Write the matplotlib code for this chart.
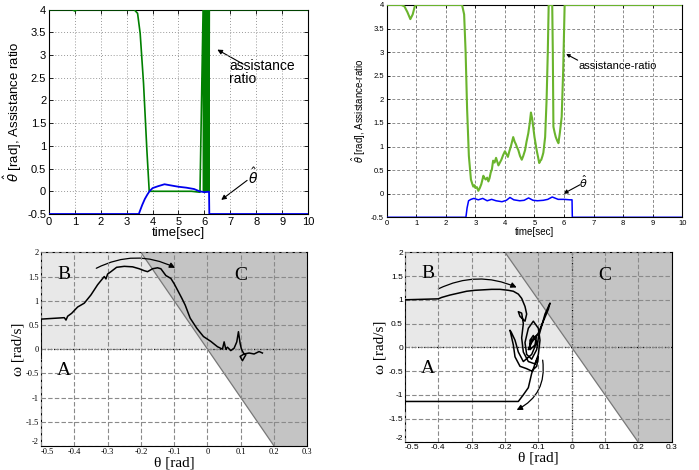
import numpy as np
import matplotlib
matplotlib.use("Agg")
import matplotlib.pyplot as plt
from matplotlib.patches import FancyArrowPatch

# ---------------- data ----------------
# top-left: assistance ratio and theta-hat vs time
tl_green_t = [0, 0.9, 1.0, 1.1, 2.0, 3.0, 3.29, 3.42, 3.52, 3.65, 3.78, 3.87, 4.5, 5.5, 5.83,
              5.95, 5.97, 5.99, 6.01, 6.03, 6.05, 6.07, 6.09, 6.11, 6.13, 6.15, 6.17, 6.19, 10]
tl_green_v = [4, 4, 3.97, 4, 4, 4, 4, 3.92, 3.48, 2.38, 0.9, 0.0, 0.0, 0.0, -0.02,
              4.0, 0.0, 4.0, 0.0, 4.0, 0.0, 4.0, 0.0, 4.0, 0.0, 4.0, 0.0, 4.0, 4.0]
tl_blue_t = [0, 3.47, 3.5, 3.6, 3.7, 3.8, 3.88, 4.0, 4.2, 4.46, 4.7, 5.0, 5.3, 5.6, 5.81, 6.0, 6.18, 6.19, 10]
tl_blue_v = [-0.5, -0.5, -0.45, -0.3, -0.17, -0.07, 0.0, 0.07, 0.11, 0.155, 0.13, 0.1, 0.08, 0.05, 0.0, -0.02, -0.01, -0.5, -0.5]

# top-right
tr_green_t = [0, 0.5, 0.6, 0.7, 0.8, 0.88, 0.95, 1.0, 2.55, 2.62, 2.67, 2.72, 2.78, 2.85, 2.9, 2.93,
              2.97, 3.0, 3.05, 3.1, 3.15, 3.2, 3.24, 3.27, 3.31, 3.35, 3.4, 3.44, 3.48, 3.52, 3.56,
              3.6, 3.65, 3.7, 3.74, 3.78, 3.83, 3.88, 3.94, 4.0, 4.05, 4.1, 4.15, 4.2, 4.24, 4.28,
              4.33, 4.37, 4.41, 4.45, 4.51, 4.57, 4.62, 4.68, 4.73, 4.79, 4.84, 4.88, 4.92, 4.95,
              5.0, 5.04, 5.08, 5.12, 5.16, 5.2, 5.23, 5.27, 5.3, 5.36, 5.41, 5.45, 5.48, 5.6, 5.62,
              5.64, 5.68, 5.72, 5.77, 5.81, 5.86, 5.92, 5.97, 6.02, 10]
tr_green_v = [4, 4, 3.97, 3.85, 3.70, 3.8, 3.97, 4, 4, 3.8, 3.0, 1.8, 0.8, 0.3, 0.2, 0.15,
              0.18, 0.12, 0.14, 0.06, 0.12, 0.2, 0.3, 0.38, 0.33, 0.3, 0.34, 0.26, 0.33, 0.45, 0.52,
              0.7, 0.66, 0.76, 0.68, 0.6, 0.66, 0.72, 0.82, 0.9, 0.84, 0.78, 0.9, 1.0, 1.1, 1.2,
              1.1, 1.05, 0.98, 0.93, 0.8, 0.72, 0.8, 0.92, 1.1, 1.28, 1.5, 1.72, 1.6, 1.45,
              1.2, 1.05, 0.9, 0.78, 0.65, 0.7, 0.72, 0.8, 0.87, 1.2, 2.0, 3.0, 4.0, 4.0, 3.0,
              1.42, 1.3, 1.2, 1.12, 1.07, 1.3, 1.63, 2.6, 4.0, 4.0]
tr_blue_t = [0, 2.68, 2.72, 2.77, 2.85, 2.95, 3.1, 3.25, 3.4, 3.55, 3.7, 3.9, 4.05, 4.17, 4.3, 4.5,
             4.65, 4.8, 4.95, 5.1, 5.3, 5.45, 5.6, 5.8, 6.0, 6.2, 6.27, 6.28, 10]
tr_blue_v = [-0.5, -0.5, -0.3, -0.15, -0.12, -0.1, -0.13, -0.1, -0.15, -0.12, -0.15, -0.17, -0.14, -0.08,
             -0.13, -0.15, -0.14, -0.09, -0.14, -0.15, -0.14, -0.12, -0.07, -0.12, -0.12, -0.13, -0.13, -0.5, -0.5]

# bottom-left phase trajectory
bl_theta = [-0.5, -0.5, -0.5, -0.43, -0.425, -0.42, -0.408, -0.39, -0.37, -0.35, -0.33, -0.31, -0.305,
            -0.30, -0.29, -0.273, -0.25, -0.225, -0.205, -0.19, -0.18, -0.165, -0.15, -0.14, -0.125,
            -0.11, -0.1, -0.09, -0.077, -0.067, -0.052, -0.032, -0.012, 0.01, 0.03, 0.045, 0.05,
            0.055, 0.06, 0.07, 0.08, 0.088, 0.093, 0.098, 0.102, 0.108, 0.115, 0.105, 0.098, 0.11,
            0.125, 0.14, 0.155, 0.165]
bl_omega = [-0.19, 0.43, 0.62, 0.65, 0.6, 0.68, 0.74, 0.87, 0.95, 1.12, 1.33, 1.5, 1.45,
            1.55, 1.6, 1.69, 1.71, 1.70, 1.66, 1.62, 1.60, 1.66, 1.68, 1.66, 1.52,
            1.46, 1.35, 1.22, 1.05, 0.91, 0.64, 0.43, 0.26, 0.16, 0.05, 0.0, 0.15,
            0.0, 0.04, -0.03, 0.02, 0.15, 0.36, 0.12, 0.0, -0.08, -0.12, -0.24, -0.15, -0.1,
            -0.08, -0.1, -0.05, -0.08]

# bottom-right phase trajectory
br_theta = [-0.5, -0.5, -0.4, -0.39, -0.365, -0.34, -0.315, -0.29, -0.265, -0.24,
            -0.215, -0.19, -0.175, -0.16, -0.15, -0.14, -0.135, -0.14, -0.155, -0.16,
            -0.15, -0.145, -0.15, -0.145, -0.13, -0.11, -0.1, -0.095, -0.1, -0.115,
            -0.13, -0.14, -0.135, -0.12, -0.105, -0.1, -0.09, -0.08, -0.065, -0.07,
            -0.085, -0.1, -0.12, -0.13, -0.12, -0.105, -0.11, -0.125, -0.125, -0.115,
            -0.105, -0.12, -0.145, -0.16, -0.17, -0.18, -0.185, -0.175, -0.17, -0.155,
            -0.135, -0.12, -0.105, -0.1, -0.11, -0.12, -0.125, -0.13, -0.145, -0.16, -0.5]
br_omega = [-1.35, 1.0, 1.02, 1.05, 1.10, 1.14, 1.18, 1.20, 1.21, 1.22,
            1.22, 1.20, 1.18, 1.12, 1.03, 0.86, 0.7, 0.55, 0.65, 0.75,
            0.72, 0.5, 0.2, -0.1, -0.3, -0.35, -0.15, 0.15, 0.4, 0.55,
            0.4, 0.1, -0.15, -0.25, -0.05, 0.2, 0.45, 0.7, 0.93, 0.8,
            0.55, 0.3, 0.1, -0.05, 0.15, 0.25, 0.05, -0.05, 0.15, 0.25,
            0.1, -0.15, -0.3, -0.1, 0.15, 0.3, 0.36, 0.05, -0.2, -0.4,
            -0.45, -0.5, -0.4, -0.2, -0.35, -0.55, -0.7, -0.85, -1.0, -1.14, -1.14]

time_ticks = list(range(0, 11))
ratio_ticks = [-0.5, 0, 0.5, 1, 1.5, 2, 2.5, 3, 3.5, 4]
ratio_labels = ["-0.5", "0", "0.5", "1", "1.5", "2", "2.5", "3", "3.5", "4"]
theta_ticks = [-0.5, -0.4, -0.3, -0.2, -0.1, 0, 0.1, 0.2, 0.3]
theta_labels = ["-0.5", "-0.4", "-0.3", "-0.2", "-0.1", "0", "0.1", "0.2", "0.3"]
omega_ticks = [-2, -1.5, -1, -0.5, 0, 0.5, 1, 1.5, 2]
omega_labels = ["-2", "-1.5", "-1", "-0.5", "0", "0.5", "1", "1.5", "2"]
switch_slope = -10.0   # boundary omega = slope * theta

SANS = "Liberation Sans"
SERIF = "Liberation Serif"

fig = plt.figure(figsize=(6.99, 4.70), dpi=100)
fig.patch.set_facecolor("white")

def arrow(ax, start, end, rad=0.0, lw=0.8, ms=8):
    p = FancyArrowPatch(start, end, connectionstyle=f"arc3,rad={rad}",
                        arrowstyle="-|>", mutation_scale=ms, lw=lw, color="black",
                        shrinkA=0, shrinkB=0)
    ax.add_patch(p)

# ---------------- top-left ----------------
ax1 = fig.add_axes([0.0701, 0.5447, 0.3705, 0.4347])
ax1.plot(tl_green_t, tl_green_v, color="#008000", lw=1.2, zorder=3)
ax1.plot(tl_blue_t, tl_blue_v, color="#0000ee", lw=1.3, zorder=3)
ax1.set_xlim(0, 10); ax1.set_ylim(-0.5, 4)
ax1.set_xticks(time_ticks); ax1.set_yticks(ratio_ticks)
ax1.set_xticklabels([str(t) for t in time_ticks], fontsize=8, family=SANS)
ax1.set_yticklabels(ratio_labels, fontsize=8, family=SANS)
ax1.tick_params(direction="in", length=3, width=0.6, top=True, right=True, pad=2)
ax1.grid(True, linestyle=(0, (1, 2)), color="#999999", lw=0.7)
ax1.set_xlabel("time[sec]", fontsize=9.5, family=SANS, labelpad=0)
ax1.set_ylabel(r"$\hat{\theta}$ [rad], Assistance ratio", fontsize=9.5, family=SANS, labelpad=2)
ax1.text(6.95, 2.62, "assistance\nratio", fontsize=10, family=SANS, va="center", linespacing=0.9)
arrow(ax1, (7.5, 2.8), (6.5, 3.12), ms=7)
ax1.text(7.9, 0.32, r"$\hat{\theta}$", fontsize=10, ha="center", va="center")
arrow(ax1, (7.65, 0.24), (6.65, -0.19), ms=7)
for s in ax1.spines.values():
    s.set_linewidth(0.8)

# ---------------- top-right ----------------
ax2 = fig.add_axes([0.5532, 0.5377, 0.4229, 0.4517])
ax2.plot(tr_green_t, tr_green_v, color="#6ab42d", lw=1.5, zorder=3)
ax2.plot(tr_blue_t, tr_blue_v, color="#0000ff", lw=1.1, zorder=3)
ax2.set_xlim(0, 10); ax2.set_ylim(-0.5, 4)
ax2.set_xticks(time_ticks); ax2.set_yticks(ratio_ticks)
ax2.set_xticklabels([str(t) for t in time_ticks], fontsize=5.5, family=SANS)
ax2.set_yticklabels(ratio_labels, fontsize=5.5, family=SANS)
ax2.tick_params(direction="in", length=2, width=0.6, top=True, right=True, pad=2)
ax2.grid(True, linestyle=(0, (3, 2)), color="#8c8c8c", lw=0.7)
ax2.set_xlabel("time[sec]", fontsize=7, family=SANS, labelpad=0)
ax2.set_ylabel(r"$\hat{\theta}$ [rad], Assistance-ratio", fontsize=7, family=SANS, labelpad=2)
ax2.text(6.48, 2.71, "assistance-ratio", fontsize=8, family=SANS, va="center")
arrow(ax2, (6.46, 2.83), (6.07, 2.96), ms=5)
ax2.text(6.65, 0.26, r"$\hat{\theta}$", fontsize=8, ha="center", va="center")
arrow(ax2, (6.54, 0.19), (5.98, 0.0), ms=6)
for s in ax2.spines.values():
    s.set_linewidth(0.8)

# ---------------- bottom phase planes ----------------
def phase_axes(rect, theta, omega, tick_family, tick_size, arrows, black_vertical):
    ax = fig.add_axes(rect)
    xmin, xmax = theta_ticks[0], theta_ticks[-1]
    ymin, ymax = omega_ticks[0], omega_ticks[-1]
    xs = np.linspace(xmin, xmax, 400)
    bound = switch_slope * xs
    # region C (right of switching line)
    ax.fill_between(xs, np.clip(bound, ymin, ymax), ymax, color="#c4c4c4", lw=0, zorder=0)
    # region B (omega > 0, left of line)
    ax.fill_between(xs, 0, np.clip(bound, 0, ymax), color="#e8e8e8", lw=0, zorder=0)
    ax.plot(xs, bound, color="#777777", lw=0.9, zorder=1)
    ax.set_xlim(xmin, xmax); ax.set_ylim(ymin, ymax)
    ax.set_xticks(theta_ticks); ax.set_yticks(omega_ticks)
    ax.set_xticklabels(theta_labels, fontsize=tick_size, family=tick_family)
    ax.set_yticklabels(omega_labels, fontsize=tick_size, family=tick_family)
    ax.tick_params(direction="in", length=0, pad=1.5)
    # lowest y label sits just above the corner so it does not collide with "-0.5"
    ax.get_yticklabels()[0].set_va("bottom")
    ax.get_xticklabels()[0].set_ha("left")
    ax.grid(True, linestyle=(0, (4, 2)), color="#8a8a8a", lw=0.8, zorder=1)
    ax.set_axisbelow(False)
    ax.axhline(0, color="black", lw=0.9, linestyle=(0, (1, 1.5)), zorder=2)
    if black_vertical:
        ax.axvline(0, color="black", lw=0.9, linestyle=(0, (1, 1.5)), zorder=2)
    ax.plot(theta, omega, color="black", lw=1.1, zorder=4)
    ax.set_xlabel("θ [rad]", fontsize=11, family=SERIF, labelpad=0)
    ax.set_ylabel("ω [rad/s]", fontsize=11, family=SERIF, labelpad=1)
    ax.text(-0.43, 1.55, "B", fontsize=14, family=SERIF, ha="center", va="center")
    ax.text(0.1, 1.52, "C", fontsize=14, family=SERIF, ha="center", va="center")
    ax.text(-0.43, -0.45, "A", fontsize=14, family=SERIF, ha="center", va="center")
    for (s, e, r) in arrows:
        arrow(ax, s, e, rad=r, lw=0.9, ms=8)
    for sp in ax.spines.values():
        sp.set_linewidth(0.8)
    return ax

phase_axes([0.0587, 0.0511, 0.3810, 0.4121], bl_theta, bl_omega, SERIF, 6,
           [((-0.334, 1.67), (-0.097, 1.68), -0.25)], False)
phase_axes([0.5794, 0.0589, 0.3815, 0.4043], br_theta, br_omega, SANS, 6,
           [((-0.4, 1.23), (-0.165, 1.26), -0.23),
            ((-0.087, -0.27), (-0.165, -1.32), -0.35)], True)

fig.savefig("out.png", dpi=100)
